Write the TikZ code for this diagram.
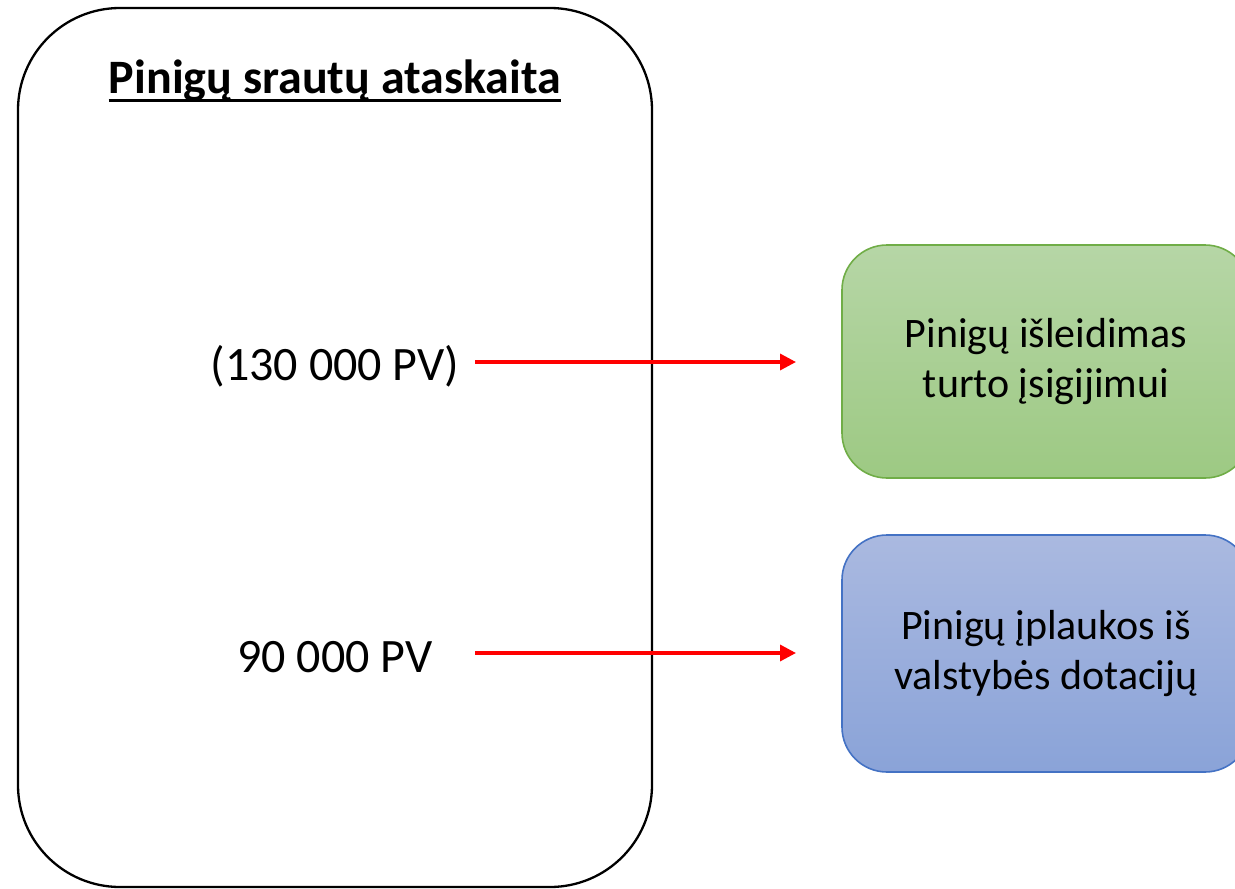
\documentclass[tikz,border=0pt]{standalone}
\usepackage{fontspec}
\setmainfont{Carlito}
\usetikzlibrary{arrows.meta}
\definecolor{gtop}{RGB}{182,214,166}
\definecolor{gbot}{RGB}{157,201,131}
\definecolor{gborder}{RGB}{112,173,71}
\definecolor{btop}{RGB}{170,185,224}
\definecolor{bbot}{RGB}{138,163,216}
\definecolor{bborder}{RGB}{68,114,196}
\definecolor{arrred}{RGB}{255,0,0}
\tikzset{
  mainbox/.style={draw=black, line width=2.3pt, rounded corners=102pt, outer sep=0pt, inner sep=0pt, anchor=north west},
  sidebox/.style={line width=1.6pt, rounded corners=45pt, outer sep=0pt, inner sep=0pt, anchor=north west, align=center, font=\fontsize{42}{50}\selectfont, text=black},
  lbl/.style={inner sep=0pt, anchor=base, font=\fontsize{48}{58}\selectfont},
  flow/.style={draw=arrred, line width=3.4pt, -{Triangle[length=16pt,width=16pt]}},
}
\begin{document}
\begin{tikzpicture}[x=1pt,y=-1pt]
\useasboundingbox (0,0) rectangle (1235,889);
\node[mainbox, minimum width=634pt, minimum height=879pt] (main) at (18,8) {};
\node[lbl, font=\fontsize{48}{58}\selectfont\bfseries] (title) at (335,93) {Pinigų srautų ataskaita};
\draw[line width=3pt] ([yshift=-7pt]title.base west) -- ([yshift=-7pt]title.base east);
\node[lbl] (l1) at (335,380) {(130 000 PV)};
\node[lbl] (l2) at (335,672) {90 000 PV};
\node[sidebox, draw=gborder, top color=gtop, bottom color=gbot, minimum width=408pt, minimum height=233pt] (green) at (842,245) {Pinigų išleidimas\\turto įsigijimui};
\node[sidebox, draw=bborder, top color=btop, bottom color=bbot, minimum width=408pt, minimum height=237pt] (blue) at (842,535) {Pinigų įplaukos iš\\valstybės dotacijų};
\coordinate (s1) at (475,362);
\coordinate (e1) at (796,362);
\coordinate (s2) at (475,653);
\coordinate (e2) at (796,653);
\draw[flow] (s1) -- (e1);
\draw[flow] (s2) -- (e2);
\end{tikzpicture}
\end{document}
